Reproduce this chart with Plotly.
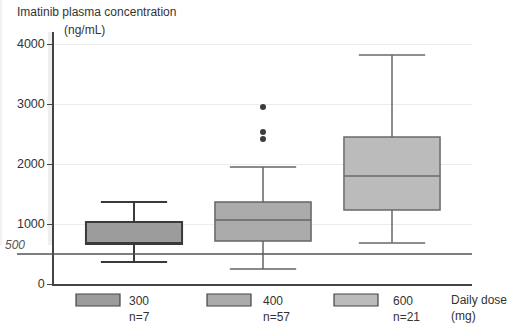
import plotly.graph_objects as go

# ---- data ----
doses = ["300", "400", "600"]
counts = ["n=7", "n=57", "n=21"]
q1 = [665, 715, 1235]
median = [680, 1065, 1800]
q3 = [1035, 1365, 2450]
lowerfence = [365, 250, 685]
upperfence = [1365, 1950, 3815]
outlier_group = [1, 1, 1]
outlier_values = [2950, 2535, 2415]
threshold = 500
yticks = [0, 1000, 2000, 3000, 4000]

fills = ["#9c9c9c", "#ababab", "#bbbbbb"]
lines = ["#3a3a3a", "#666666", "#6a6a6a"]
lwidths = [2, 1.5, 1.5]

W, H = 520, 328
L, R, T, B = 54, 48, 32, 44
pw, ph = W - L - R, H - T - B

def px(x):
    return (x - L) / pw

def py(y):
    return (H - B - y) / ph

fig = go.Figure()
for i in range(3):
    fig.add_trace(go.Box(
        x=[i], q1=[q1[i]], median=[median[i]], q3=[q3[i]],
        lowerfence=[lowerfence[i]], upperfence=[upperfence[i]],
        fillcolor=fills[i], line=dict(color=lines[i], width=lwidths[i]),
        width=0.745, whiskerwidth=0.69, boxpoints=False,
        showlegend=False, hoverinfo="skip"))

fig.add_trace(go.Scatter(
    x=outlier_group, y=outlier_values, mode="markers",
    marker=dict(color="#3c3c3c", size=6), showlegend=False, hoverinfo="skip"))

shapes = []
# light band left of the axis
shapes.append(dict(type="rect", xref="paper", yref="paper", x0=px(48), x1=px(53),
                   y0=py(245), y1=py(32), fillcolor="#efefef", line=dict(width=0), layer="below"))
shapes.append(dict(type="line", xref="paper", yref="paper", x0=px(1), x1=px(1),
                   y0=py(245), y1=py(0), line=dict(color="#e4e4e4", width=1), layer="below"))
# threshold line
shapes.append(dict(type="line", xref="paper", yref="y", x0=px(17), x1=1.0,
                   y0=threshold, y1=threshold, line=dict(color="#555555", width=1.5)))

annotations = []
font = dict(family="Liberation Sans, Arial, sans-serif", size=12, color="#333333")
annotations.append(dict(text="Imatinib plasma concentration", xref="paper", yref="paper",
                        x=px(15), y=py(12), xanchor="left", yanchor="middle",
                        showarrow=False, font=dict(font, size=12)))
annotations.append(dict(text="(ng/mL)", xref="paper", yref="paper",
                        x=px(62), y=py(30), xanchor="left", yanchor="middle",
                        showarrow=False, font=dict(font, size=12)))
annotations.append(dict(text="<i>500</i>", xref="paper", yref="y",
                        x=px(3), y=threshold, xanchor="left", yanchor="bottom",
                        showarrow=False, font=dict(font, size=12, color="#555555")))

# legend boxes
rect_x = [76, 207, 334]
text_x = [127, 261, 391]
for i in range(3):
    shapes.append(dict(type="rect", xref="paper", yref="paper",
                       x0=px(rect_x[i]), x1=px(rect_x[i] + 44), y0=py(306), y1=py(294),
                       fillcolor=fills[i], line=dict(color="#444444", width=1.2)))
    annotations.append(dict(text=doses[i] + "<br>" + counts[i], xref="paper", yref="paper",
                            x=px(text_x[i]), y=py(309), xanchor="left", yanchor="middle",
                            align="left", showarrow=False, font=font))
annotations.append(dict(text="Daily dose<br>(mg)", xref="paper", yref="paper",
                        x=px(449), y=py(308), xanchor="left", yanchor="middle",
                        align="left", showarrow=False, font=font))

fig.update_layout(
    width=W, height=H, margin=dict(l=L, r=R, t=T, b=B),
    paper_bgcolor="white", plot_bgcolor="white",
    shapes=shapes, annotations=annotations,
    xaxis=dict(range=[(L - 134) / 129, (W - R - 134) / 129], showgrid=False,
               zeroline=False, showticklabels=False, ticks="",
               showline=True, linecolor="#444444", linewidth=1.5),
    yaxis=dict(range=[0, 4200], tickvals=yticks, ticks="outside", ticklen=5,
               tickcolor="#444444", showgrid=True, gridcolor="#ececec",
               zeroline=False, showline=True, linecolor="#444444", linewidth=1.5,
               tickfont=dict(font, size=12.5)),
)

fig.write_html("out.html", config={"displayModeBar": False},
               post_script="document.body.style.margin='0';document.body.style.overflow='hidden';")
